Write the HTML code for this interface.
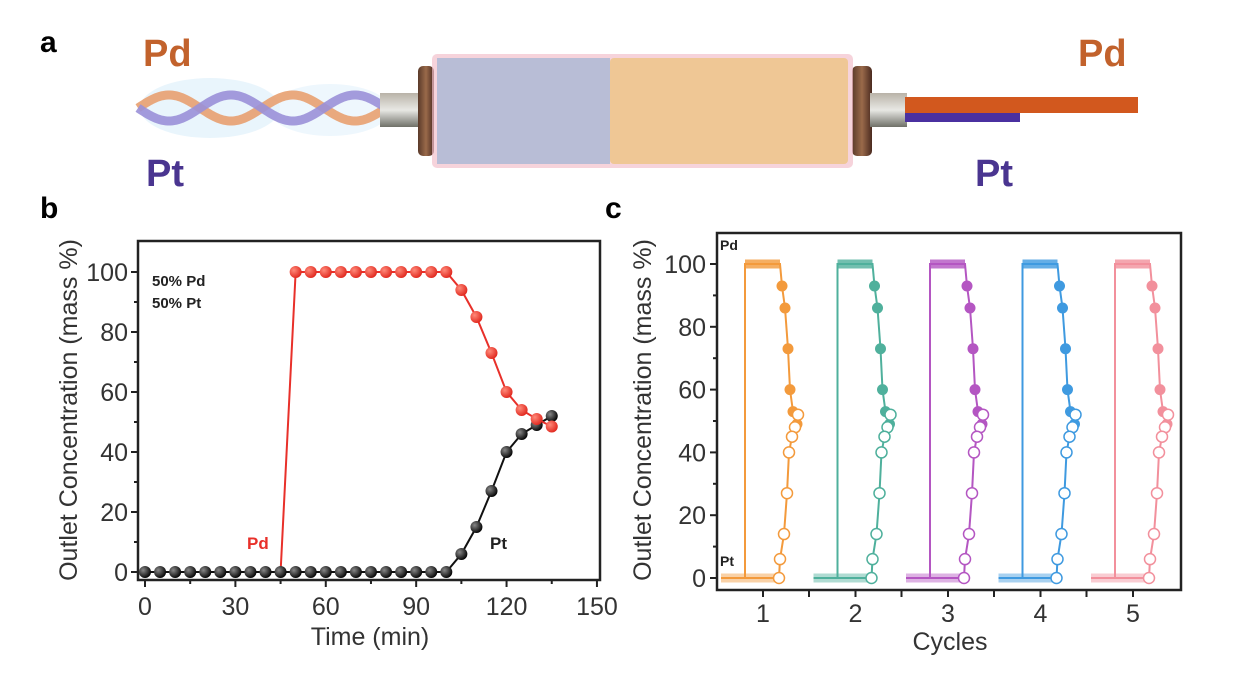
<!DOCTYPE html>
<html><head><meta charset="utf-8"><style>
html,body{margin:0;padding:0;background:#fff;}
svg{display:block;font-family:"Liberation Sans",Arial,sans-serif;}
</style></head><body>
<svg id="s" width="1236" height="674" viewBox="0 0 1236 674" xmlns="http://www.w3.org/2000/svg">
<rect width="1236" height="674" fill="#fff"/>
<defs>
<linearGradient id="gc" x1="0" y1="0" x2="0" y2="1"><stop offset="0" stop-color="#b9b3a8"/><stop offset="0.5" stop-color="#e8e8e4"/><stop offset="1" stop-color="#6f7068"/></linearGradient>
<linearGradient id="cap" x1="0" y1="0" x2="1" y2="0"><stop offset="0" stop-color="#5a3a2a"/><stop offset="0.5" stop-color="#9a6a4a"/><stop offset="1" stop-color="#4a2a20"/></linearGradient>
<radialGradient id="rb" cx="0.35" cy="0.35" r="0.7"><stop offset="0" stop-color="#888"/><stop offset="1" stop-color="#000"/></radialGradient>
<radialGradient id="rr" cx="0.35" cy="0.35" r="0.7"><stop offset="0" stop-color="#ff8a7a"/><stop offset="1" stop-color="#e0261c"/></radialGradient>
</defs>
<!-- panel a -->
<text x="40" y="52" font-size="30" font-weight="bold">a</text>
<text x="143" y="66" font-size="38" font-weight="bold" fill="#c2622c">Pd</text>
<text x="146" y="186" font-size="38" font-weight="bold" fill="#4a3590">Pt</text>
<text x="1078" y="66" font-size="38" font-weight="bold" fill="#c2622c">Pd</text>
<text x="975" y="186" font-size="38" font-weight="bold" fill="#4a3590">Pt</text>
<ellipse cx="210" cy="108" rx="70" ry="30" fill="#dbeefa" opacity="0.6"/>
<ellipse cx="330" cy="110" rx="60" ry="26" fill="#e3f1fb" opacity="0.6"/>
<path id="h1" d="" fill="none" stroke="#e8a070" stroke-width="9" opacity="0.9"/>
<path id="h2" d="" fill="none" stroke="#9a90d8" stroke-width="9" opacity="0.9"/>
<rect x="380" y="93" width="40" height="34" fill="url(#gc)"/>
<rect x="418" y="66" width="16" height="90" rx="5" fill="url(#cap)"/>
<rect x="852" y="66" width="20" height="90" rx="5" fill="url(#cap)"/>
<rect x="870" y="93" width="37" height="34" fill="url(#gc)"/>
<rect x="905" y="97" width="233" height="16" fill="#d2581e"/>
<rect x="905" y="113" width="115" height="9" fill="#4a30a0"/>
<rect x="432" y="54" width="421" height="114" rx="5" fill="#f2c0cc" opacity="0.7"/>
<rect x="437" y="58" width="173" height="106" fill="#b8bdd6"/>
<rect x="610" y="58" width="238" height="106" rx="4" fill="#efc795"/>
<!-- panel b -->
<text x="40" y="218" font-size="30" font-weight="bold">b</text>
<g id="pb"></g>
<text x="605" y="218" font-size="30" font-weight="bold">c</text>
<g id="pc"></g>
</svg>
<script>
var NS="http://www.w3.org/2000/svg";
function el(p,t,a,txt){var e=document.createElementNS(NS,t);for(var k in a)e.setAttribute(k,a[k]);if(txt!=null)e.textContent=txt;p.appendChild(e);return e;}
// helix
var d1="",d2="";for(var x=138;x<=385;x+=2){var y=13*Math.sin((x-138)/62*Math.PI);d1+=(x==138?"M":"L")+x+","+(108-y);d2+=(x==138?"M":"L")+x+","+(108+y);}
document.getElementById('h1').setAttribute('d',d1);document.getElementById('h2').setAttribute('d',d2);
// panel b
var b=document.getElementById('pb');
var L=138,R=600,T=241,B=580;function bx(t){return 145+t*3.013;}function by(v){return 572-v*3;}
el(b,'rect',{x:L,y:T,width:R-L,height:B-T,fill:'none',stroke:'#222','stroke-width':2.5});
for(var v=0;v<=100;v+=10){el(b,'line',{x1:L,x2:L-(v%20?4:7),y1:by(v),y2:by(v),stroke:'#222','stroke-width':2});if(v%20==0)el(b,'text',{x:L-10,y:by(v)+9,'font-size':25,'text-anchor':'end',fill:'#333'},v);}
for(var t=0;t<=150;t+=15){el(b,'line',{x1:bx(t),x2:bx(t),y1:B,y2:B+(t%30?4:7),stroke:'#222','stroke-width':2});if(t%30==0)el(b,'text',{x:bx(t),y:B+35,'font-size':25,'text-anchor':'middle',fill:'#333'},t);}
el(b,'text',{x:370,y:645,'font-size':25,'text-anchor':'middle',fill:'#333'},'Time (min)');
el(b,'text',{x:0,y:0,'font-size':25,'text-anchor':'middle',fill:'#333',transform:'translate(77,410) rotate(-90)'},'Outlet Concentration (mass %)');
el(b,'text',{x:152,y:286,'font-size':15,'font-weight':'bold',fill:'#222'},'50% Pd');
el(b,'text',{x:152,y:308,'font-size':15,'font-weight':'bold',fill:'#222'},'50% Pt');
el(b,'text',{x:247,y:549,'font-size':17,'font-weight':'bold',fill:'#e8302a'},'Pd');
el(b,'text',{x:490,y:549,'font-size':17,'font-weight':'bold',fill:'#222'},'Pt');
var red=[[45,0]],blk=[];for(var t=50;t<=100;t+=5)red.push([t,100]);
[[105,94],[110,85],[115,73],[120,60],[125,54],[130,51],[135,48.5]].forEach(function(p){red.push(p)});
for(var t=0;t<=100;t+=5)blk.push([t,0]);[[105,6],[110,15],[115,27],[120,40],[125,46],[130,49],[135,52]].forEach(function(p){blk.push(p)});
function pl(pts){return pts.map(function(p){return bx(p[0])+","+by(p[1])}).join(" ");}
el(b,'polyline',{points:pl(blk),fill:'none',stroke:'#111','stroke-width':2});
el(b,'polyline',{points:pl(red),fill:'none',stroke:'#e8302a','stroke-width':2});
blk.forEach(function(p){el(b,'circle',{cx:bx(p[0]),cy:by(p[1]),r:6,fill:'url(#rb)'})});
red.slice(1).forEach(function(p){el(b,'circle',{cx:bx(p[0]),cy:by(p[1]),r:6,fill:'url(#rr)'})});
// panel c
var c=document.getElementById('pc');
var cL=717,cR=1181,cT=233,cB=590;function cy(v){return 578-v*3.14;}
el(c,'rect',{x:cL,y:cT,width:cR-cL,height:cB-cT,fill:'none',stroke:'#222','stroke-width':2.5});
for(var v=0;v<=100;v+=10){el(c,'line',{x1:cL,x2:cL-(v%20?4:7),y1:cy(v),y2:cy(v),stroke:'#222','stroke-width':2});if(v%20==0)el(c,'text',{x:cL-11,y:cy(v)+9,'font-size':25,'text-anchor':'end',fill:'#333'},v);}
el(c,'text',{x:0,y:0,'font-size':25,'text-anchor':'middle',fill:'#333',transform:'translate(651,410) rotate(-90)'},'Outlet Concentration (mass %)');
el(c,'text',{x:950,y:650,'font-size':25,'text-anchor':'middle',fill:'#333'},'Cycles');
el(c,'text',{x:720,y:250,'font-size':14,'font-weight':'bold',fill:'#222'},'Pd');
el(c,'text',{x:720,y:566,'font-size':14,'font-weight':'bold',fill:'#222'},'Pt');
var cols=['#f39a3c','#4fb09c','#b456c2','#3f9ae0','#f2909c'];
for(var i=0;i<5;i++){var cx0=763+i*92.5;
 el(c,'line',{x1:cx0,x2:cx0,y1:cB,y2:cB+7,stroke:'#222','stroke-width':2});
 if(i<4)el(c,'line',{x1:cx0+46,x2:cx0+46,y1:cB,y2:cB+7,stroke:'#222','stroke-width':2});
 el(c,'text',{x:cx0,y:cB+32,'font-size':25,'text-anchor':'middle',fill:'#333'},i+1);
 var col=cols[i],o=cx0-763;
 var xs=717+o, xr=745+o, xe=780+o;
 var fd=[[782,93],[785,86],[788,73],[790,60],[793,53],[797,49]];
 var op=[[798,52],[795,48],[792,45],[789,40],[787,27],[784,14],[780,6],[779,0]];
 var g=el(c,'g',{});
 el(g,'line',{x1:xs+4,x2:xe,y1:cy(0),y2:cy(0),stroke:col,'stroke-width':9,opacity:0.45});
 el(g,'line',{x1:xr,x2:xe,y1:cy(100),y2:cy(100),stroke:col,'stroke-width':9,opacity:0.8});
 var pts=[[xs+4,0],[xr,0],[xr,100],[xe,100]].concat(fd.map(function(p){return [p[0]+o,p[1]]}));
 el(g,'polyline',{points:pts.map(function(p){return p[0]+","+cy(p[1])}).join(" "),fill:'none',stroke:col,'stroke-width':2});
 var pts2=[[xs+4,0],[xe,0]].concat(op.slice().reverse().map(function(p){return [p[0]+o,p[1]]}));
 el(g,'polyline',{points:pts2.map(function(p){return p[0]+","+cy(p[1])}).join(" "),fill:'none',stroke:col,'stroke-width':2});
 fd.forEach(function(p){el(g,'circle',{cx:p[0]+o,cy:cy(p[1]),r:5.5,fill:col})});
 op.forEach(function(p){el(g,'circle',{cx:p[0]+o,cy:cy(p[1]),r:5.5,fill:'#fff',stroke:col,'stroke-width':1.5})});
}
</script>
</body></html>
